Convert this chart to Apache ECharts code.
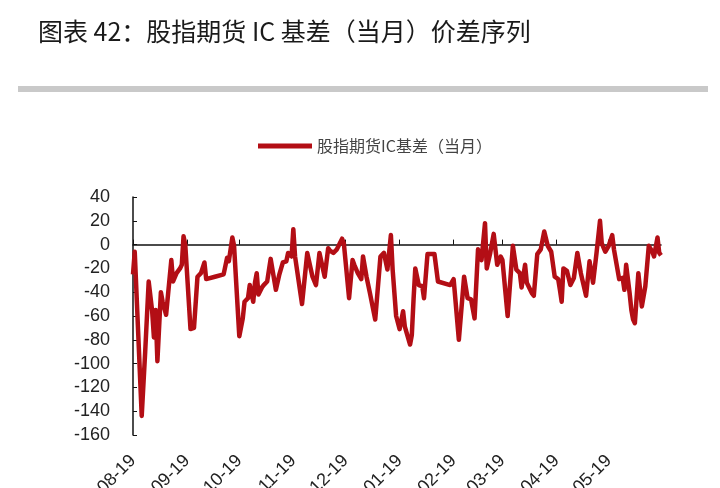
<!DOCTYPE html>
<html>
<head>
<meta charset="utf-8">
<title>股指期货IC基差（当月）</title>
<script src="https://cdn.jsdelivr.net/npm/echarts@6.0.0/dist/echarts.min.js"></script>
<style>
  html, body { margin: 0; padding: 0; background: #fff; }
  #chart { width: 720px; height: 488px; }
</style>
</head>
<body>
<div id="chart"></div>
<script>
// calendar span of the x axis (days counted from startDate)
const startDate = [2018, 7, 19];   // 2018-08-19
const dayCount = 304;
const labelDay = 19;               // axis labels fall on the 19th of each month
const seriesName = '股指期货IC基差（当月）';
const yTicks = { min: -160, max: 40, step: 20 };

const obsDay = [
  0, 1, 2, 5, 7, 9, 11, 12, 13, 14,
  16, 17, 19, 22, 23, 25, 27, 28, 29, 30,
  33, 35, 37, 39, 41, 42, 47, 52, 54, 55,
  57, 58, 61, 63, 64, 66, 67, 68, 69, 70,
  71, 72, 74, 75, 76, 77, 79, 82, 84, 86,
  88, 89, 91, 92, 93, 97, 100, 103, 105, 107,
  110, 112, 113, 115, 117, 120, 121, 124, 126, 127,
  129, 131, 132, 134, 136, 139, 142, 144, 146, 148,
  149, 151, 153, 155, 156, 159, 160, 161, 162, 164,
  166, 167, 169, 173, 175, 182, 184, 187, 190, 192,
  194, 196, 198, 200, 202, 203, 205, 207, 209, 211,
  212, 215, 218, 220, 222, 223, 225, 226, 229, 230,
  232, 234, 236, 238, 240, 242, 244, 245, 246, 247,
  249, 251, 253, 255, 257, 260, 262, 264, 266, 268,
  269, 271, 273, 275, 276, 279, 281, 282, 283, 285,
  286, 287, 288, 290, 291, 292, 294, 296, 298, 299,
  301, 302, 303
];
const basis = [
  -25, -6, -7, -144, -90, -31, -56, -78, -55, -98,
  -40, -48, -59, -13, -31, -24, -20, -17, 7, 0,
  -71, -70, -27, -24, -15, -29, -27, -25, -11, -14,
  6, -1, -77, -62, -48, -45, -34, -35, -48, -32,
  -24, -42, -36, -34, -34, -31, -12, -38, -25, -15,
  -14, -7, -10, 13, -10, -50, -7, -27, -34, -7,
  -27, -3, -5, -7, -4, 5, 1, -45, -13, -17,
  -24, -29, -10, -27, -41, -63, -10, -7, -21, 8,
  -21, -60, -71, -56, -69, -84, -76, -46, -20, -34,
  -35, -45, -8, -8, -31, -34, -29, -80, -27, -45,
  -46, -62, -4, -13, 18, -20, -7, 9, -17, -10,
  -13, -60, -1, -21, -24, -36, -17, -32, -41, -43,
  -8, -4, 11, -1, -6, -27, -29, -38, -48, -20,
  -22, -34, -28, -7, -24, -43, -14, -32, -7, 20,
  1, -6, -1, 8, -4, -29, -28, -38, -17, -41,
  -55, -63, -66, -24, -38, -52, -35, -1, -6, -10,
  6, -7, -9
];

function pad(n) { return n < 10 ? '0' + n : '' + n; }

// one category per calendar day so month spacing follows the calendar
const days = [];
for (let i = 0; i < dayCount; i++) {
  const d = new Date(Date.UTC(startDate[0], startDate[1], startDate[2] + i));
  days.push(d.getUTCFullYear() + '-' + pad(d.getUTCMonth() + 1) + '-' + pad(d.getUTCDate()));
}
const lineData = days.map(() => null);
obsDay.forEach((d, k) => { lineData[d] = basis[k]; });

const isLabelDay = (idx, val) => +val.slice(8) === labelDay;

const chart = echarts.init(document.getElementById('chart'));
const option = {
  animation: false,
  backgroundColor: '#fff',
  textStyle: { fontFamily: '"Liberation Sans", Arial, sans-serif' },
  title: {
    text: '图表 42：股指期货 IC 基差（当月）价差序列',
    left: 33,
    top: 14,
    textStyle: {
      fontFamily: '"Noto Sans CJK SC", sans-serif',
      fontSize: 25,
      fontWeight: 'normal',
      color: '#1a1a1a'
    }
  },
  graphic: [{
    type: 'rect',
    shape: { x: 18, y: 86, width: 690, height: 6 },
    style: { fill: '#c9c9c9' },
    silent: true
  }],
  legend: {
    data: [seriesName],
    left: 253,
    top: 133,
    icon: 'rect',
    itemWidth: 54,
    itemHeight: 5,
    textStyle: {
      fontFamily: '"Noto Sans CJK SC", sans-serif',
      fontSize: 16,
      color: '#444'
    }
  },
  grid: {
    left: 133,
    right: 59,
    top: 197,
    bottom: 53,
    containLabel: false,
    outerBoundsMode: 'none'
  },
  xAxis: [{
    type: 'category',
    data: days,
    boundaryGap: false,
    position: 'bottom',
    axisLine: { onZero: true, lineStyle: { color: '#111', width: 1.5 } },
    axisTick: { inside: true, length: 5, interval: isLabelDay, lineStyle: { color: '#111' } },
    axisLabel: { show: false },
    splitLine: { show: false }
  }, {
    type: 'category',
    data: days,
    boundaryGap: false,
    position: 'bottom',
    axisLine: { show: false, onZero: false },
    axisTick: { show: false },
    axisLabel: {
      interval: isLabelDay,
      rotate: 45,
      margin: 23,
      fontSize: 18,
      color: '#222',
      formatter: (v) => v.slice(5)
    },
    splitLine: { show: false }
  }],
  yAxis: {
    type: 'value',
    min: yTicks.min,
    max: yTicks.max,
    interval: yTicks.step,
    axisLine: { show: true, lineStyle: { color: '#111', width: 1.5 } },
    axisTick: { show: true, inside: true, length: 4, lineStyle: { color: '#111' } },
    axisLabel: { fontSize: 18, color: '#222', margin: 23 },
    splitLine: { show: false }
  },
  series: [{
    name: seriesName,
    type: 'line',
    xAxisIndex: 0,
    data: lineData,
    connectNulls: true,
    showSymbol: false,
    symbol: 'none',
    itemStyle: { color: '#b30e15' },
    lineStyle: { color: '#b30e15', width: 4.5, join: 'round' }
  }]
};
chart.setOption(option);
</script>
</body>
</html>
